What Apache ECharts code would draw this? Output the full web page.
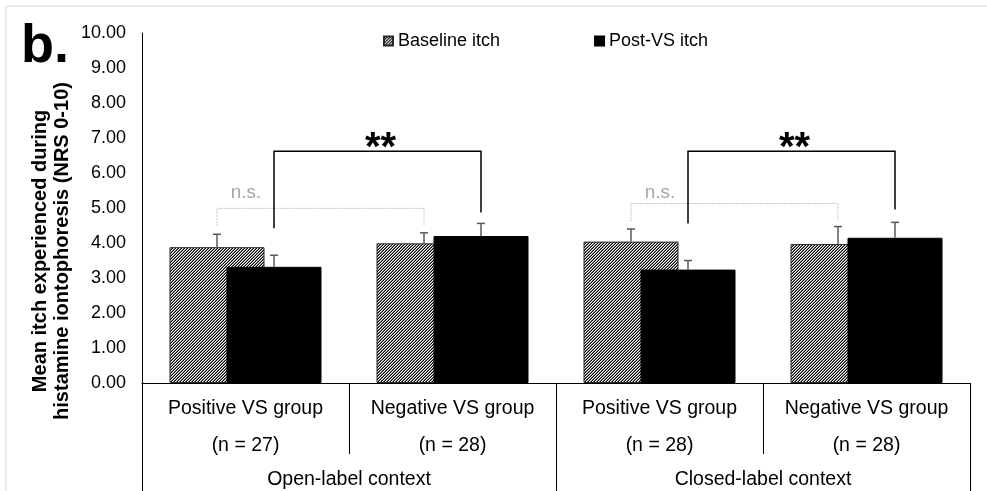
<!DOCTYPE html>
<html>
<head>
<meta charset="utf-8">
<script src="https://cdn.jsdelivr.net/npm/echarts@6/dist/echarts.min.js"></script>
<style>
html,body{margin:0;padding:0;background:#fff;}
#chart{width:987px;height:491px;}
</style>
</head>
<body>
<div id="chart"></div>
<script>
// ---- data ----
const groups = ['Positive VS group', 'Negative VS group', 'Positive VS group', 'Negative VS group'];
const groupN = ['(n = 27)', '(n = 28)', '(n = 28)', '(n = 28)'];
const contexts = ['Open-label context', 'Closed-label context'];
const baseline = [3.88, 3.99, 4.04, 3.97];
const baselineErr = [0.37, 0.30, 0.36, 0.50];
const postVS = [3.32, 4.20, 3.24, 4.15];
const postVSErr = [0.33, 0.36, 0.26, 0.44];
const yTicks = [0, 10, 1];
// brackets: [fromGroup, toGroup, side(-1 baseline / +1 post), topY, leftEndY, rightEndY, labelY]
const sigBrackets = [
  [0, 1, 1, 6.62, 4.42, 4.87, 6.68],
  [2, 3, 1, 6.62, 4.56, 4.96, 6.68]
];
const sigLabels = ['**', '**'];
const nsBrackets = [
  [0, 1, -1, 4.99, 4.49, 4.51, 5.44],
  [2, 3, -1, 5.13, 4.61, 4.66, 5.44]
];
const nsLabels = ['n.s.', 'n.s.'];

// ---- styles ----
const FONT = '"Liberation Sans", Arial, sans-serif';
const BAR_W = 95;
const BAR_GAP = -0.4;
const OFFSET = BAR_W * (1 + BAR_GAP) / 2;

function makeHatch() {
  const c = document.createElement('canvas');
  c.width = 6; c.height = 6;
  const ctx = c.getContext('2d');
  const cols = ['#000000', '#ffffff', '#7a7a7a'];
  for (let y = 0; y < 6; y++) for (let x = 0; x < 6; x++) {
    ctx.fillStyle = cols[(x + y) % 3];
    ctx.fillRect(x, y, 1, 1);
  }
  return c;
}
const hatch = makeHatch();

const chart = echarts.init(document.getElementById('chart'), null, {renderer: 'canvas'});

function errRender(params, api) {
  const cat = api.value(0), v = api.value(1), e = api.value(2), side = api.value(3);
  const b = api.coord([cat, v]);
  const t = api.coord([cat, v + e]);
  const x = b[0] + side * OFFSET;
  const st = {stroke: '#595959', lineWidth: 1.5};
  return {type: 'group', children: [
    {type: 'line', shape: {x1: x, y1: b[1], x2: x, y2: t[1]}, style: st},
    {type: 'line', shape: {x1: x - 4, y1: t[1], x2: x + 4, y2: t[1]}, style: st}
  ]};
}

function bracketRender(kind) {
  return function (params, api) {
    const from = api.value(0), to = api.value(1), side = api.value(2);
    const top = api.value(3), le = api.value(4), re = api.value(5), ly = api.value(6);
    const pL = api.coord([from, top]);
    const pR = api.coord([to, top]);
    const xL = pL[0] + side * OFFSET, xR = pR[0] + side * OFFSET;
    const yTop = pL[1];
    const yLe = api.coord([from, le])[1];
    const yRe = api.coord([to, re])[1];
    const yLab = api.coord([from, ly])[1];
    let st, textEl;
    if (kind === 'sig') {
      st = {stroke: '#000', lineWidth: 1.5, fill: null};
      textEl = {type: 'text', x: (xL + xR) / 2 + 3, y: yLab, style: {
        text: sigLabels[params.dataIndex], font: 'bold 40px ' + FONT, fill: '#000',
        align: 'center', verticalAlign: 'middle'}};
    } else {
      st = {stroke: '#c4c4c4', lineWidth: 1, lineDash: [2, 1], fill: null};
      textEl = {type: 'text', x: xL + 29, y: yLab, style: {
        text: nsLabels[params.dataIndex], font: '19px ' + FONT, fill: '#a6a6a6',
        align: 'center', verticalAlign: 'middle'}};
    }
    return {type: 'group', children: [
      {type: 'polyline', shape: {points: [[xL, yLe], [xL, yTop], [xR, yTop], [xR, yRe]]}, style: st},
      textEl
    ]};
  };
}

const option = {
  animation: false,
  textStyle: {fontFamily: FONT},
  grid: {left: 142, right: 17, top: 33, bottom: 108, containLabel: false},
  legend: {
    data: ['Baseline itch', 'Post-VS itch'],
    left: 383, top: 32, padding: 0, icon: 'rect', itemWidth: 9, itemHeight: 9, itemGap: 94,
    textStyle: {fontSize: 18, color: '#000', fontFamily: FONT}
  },
  xAxis: [
    {
      type: 'category', data: groups.map((g, i) => g + '\n' + groupN[i]),
      position: 'bottom',
      axisLine: {show: true, lineStyle: {color: '#000', width: 1}},
      axisTick: {show: true, length: 71, interval: 0, lineStyle: {color: '#000', width: 1}},
      axisLabel: {interval: 0, margin: 7, fontSize: 19.5, lineHeight: 37, color: '#000', fontFamily: FONT},
      splitLine: {show: false}
    },
    {
      type: 'category', data: contexts, position: 'bottom',
      axisLine: {show: false},
      axisTick: {show: true, length: 112, interval: 0, lineStyle: {color: '#000', width: 1}},
      axisLabel: {interval: 0, margin: 87, fontSize: 19.5, lineHeight: 20, color: '#000', fontFamily: FONT},
      splitLine: {show: false}
    }
  ],
  yAxis: {
    type: 'value', min: yTicks[0], max: yTicks[1], interval: yTicks[2],
    axisLine: {show: true, lineStyle: {color: '#000', width: 1}},
    axisTick: {show: false},
    splitLine: {show: false},
    axisLabel: {margin: 16, fontSize: 18, color: '#000', fontFamily: FONT,
      formatter: v => v.toFixed(2)}
  },
  graphic: [
    {type: 'rect', shape: {x: 6, y: 6, width: 1000, height: 500}, style: {stroke: '#d9d9d9', lineWidth: 1, fill: null}, silent: true, z: -1},
    {type: 'text', x: 21, y: 20, style: {text: 'b.', font: 'bold 54px ' + FONT, fill: '#000', align: 'left', verticalAlign: 'top'}},
    {type: 'text', x: 51, y: 251, rotation: Math.PI / 2, style: {
      text: 'Mean itch experienced during\nhistamine iontophoresis (NRS 0-10)',
      font: 'bold 20px ' + FONT, fill: '#000', align: 'center', verticalAlign: 'middle', lineHeight: 22}}
  ],
  series: [
    {
      name: 'Baseline itch', type: 'bar', data: baseline, barWidth: BAR_W, barGap: (BAR_GAP * 100) + '%',
      itemStyle: {color: {image: hatch, repeat: 'repeat'}, borderColor: '#262626', borderWidth: 1}
    },
    {
      name: 'Post-VS itch', type: 'bar', data: postVS, barWidth: BAR_W, barGap: (BAR_GAP * 100) + '%',
      itemStyle: {color: '#000', borderColor: '#000', borderWidth: 1}
    },
    {
      type: 'custom', renderItem: errRender, encode: {x: 0, y: 1}, z: 5,
      data: baseline.map((v, i) => [i, v, baselineErr[i], -1]).concat(postVS.map((v, i) => [i, v, postVSErr[i], 1]))
    },
    {
      type: 'custom', renderItem: bracketRender('ns'), encode: {x: 0, y: 3}, z: 6,
      data: nsBrackets
    },
    {
      type: 'custom', renderItem: bracketRender('sig'), encode: {x: 0, y: 3}, z: 6,
      data: sigBrackets
    }
  ]
};
chart.setOption(option);
</script>
</body>
</html>
